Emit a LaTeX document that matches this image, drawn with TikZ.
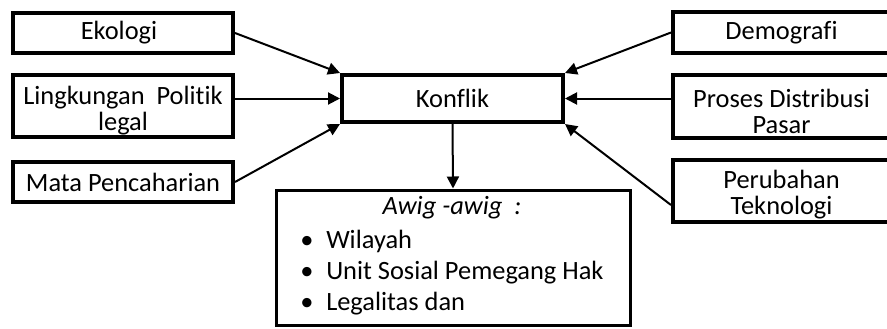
\documentclass[tikz,border=0pt]{standalone}
\usepackage{fontspec}
\setmainfont[Ligatures={NoCommon}]{Carlito}
\usetikzlibrary{arrows.meta}

\tikzset{
  kotak/.style={draw, line width=3pt, rectangle, align=center, inner sep=0pt},
  teks/.style={align=center, inner sep=0pt},
  panah/.style={line width=1.5pt, -{Triangle[length=9pt,width=9pt]}},
  butir/.style={anchor=west, inner sep=0pt, text height=14pt, text depth=4pt}
}

\begin{document}
\begin{tikzpicture}[x=0.75pt,y=0.75pt,yscale=-1,xscale=1,font=\fontsize{19.8}{19.8}\selectfont]
%set diagram left start at 0, and has size of 887 x 328
\clip (0,0) rectangle (887,328);

%Shape: left boxes
\node [kotak, minimum width=165pt, minimum height=30pt] (ekologi) at (123,33) {\hspace*{-6pt}Ekologi};
\node [kotak, minimum width=165pt, minimum height=46.5pt,
  label={[teks, name=lingkunganteks, yshift=-3.5pt]center:Lingkungan\ \ Politik\\legal}] (lingkungan) at (123,106) {};
\node [kotak, minimum width=165pt, minimum height=30pt] (mata) at (123,182) {Mata Pencaharian};

%Shape: center box
\node [kotak, minimum width=165.75pt, minimum height=35.25pt] (konflik) at (452.5,98.5) {Konflik};

%Shape: right boxes (cut by the right edge)
\node [kotak, minimum width=162.75pt, minimum height=30.75pt] (demografi) at (781.5,32.5) {Demografi};
\node [kotak, minimum width=162.75pt, minimum height=47.25pt,
  label={[teks, name=prosesteks, yshift=-3.5pt]center:Proses Distribusi\\Pasar}] (proses) at (781.5,106.5) {};
\node [kotak, minimum width=162.75pt, minimum height=46.5pt,
  label={[teks, name=perubahanteks, yshift=-2.5pt]center:Perubahan\\Teknologi}] (perubahan) at (781.5,191) {};

%Shape: awig-awig box
\node [draw, line width=2.25pt, minimum width=265.5pt, minimum height=101.25pt] (awig) at (453,257.5) {};

% Text Node
\node [inner sep=0pt] (awigjudul) at (452,208) {\itshape Awig -awig\ \ :};
% Text Node
\node [butir] (butira) at (300,242) {\makebox[19.5pt][l]{\textbullet}Wilayah};
% Text Node
\node [butir] (butirb) at (300,273) {\makebox[19.5pt][l]{\textbullet}Unit Sosial Pemegang Hak};
% Text Node
\node [butir] (butirc) at (300,304) {\makebox[19.5pt][l]{\textbullet}Legalitas dan};

%Arrows into konflik
\draw [panah] (ekologi.east) -- (konflik.north west);
\draw [panah] (konflik.west -| lingkungan.east) -- (konflik.west);
\draw [panah] (mata.east) -- (konflik.south west);
\draw [panah] (demografi.west) -- (konflik.north east);
\draw [panah] (konflik.east -| proses.west) -- (konflik.east);
\draw [panah] ([yshift=10.5pt]perubahan.west) -- (konflik.south east);

%Arrow down
\draw [panah] (konflik.south) -- (awig.north);

\end{tikzpicture}
\end{document}
